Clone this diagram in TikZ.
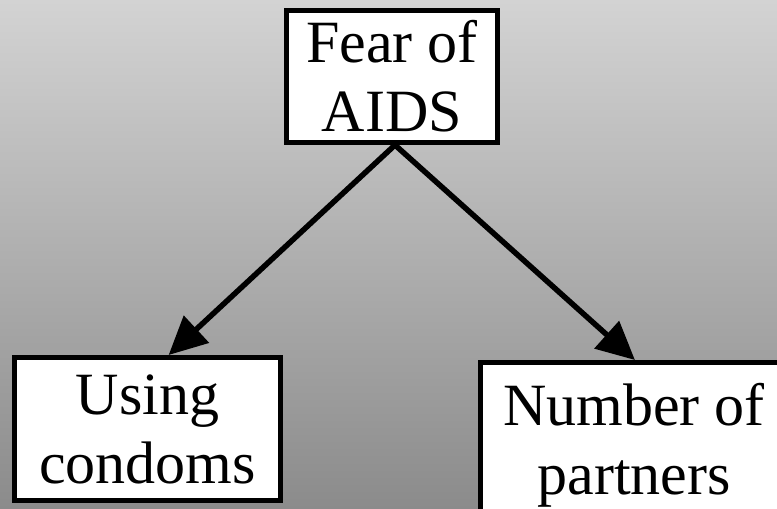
\documentclass[tikz,border=0pt]{standalone}
\usepackage{fontspec}
\setmainfont{Liberation Serif}
\newfontfamily\boxfont{Liberation Serif}
\usetikzlibrary{arrows.meta,calc}
\definecolor{bgtop}{RGB}{211,211,211}
\definecolor{bgbottom}{RGB}{139,139,139}
\tikzset{
  causebox/.style={draw=black, fill=white, line width=5pt, rectangle,
    inner sep=0pt, align=center, font=\boxfont\fontsize{60}{69}\selectfont},
  causearrow/.style={line width=5.5pt, -{Triangle[length=38pt,width=36pt]}}
}
\begin{document}
\begin{tikzpicture}[x=1pt,y=-1pt]
  % background with vertical grey gradient
  \useasboundingbox (0,0) rectangle (777,509);
  \shade[top color=bgtop, bottom color=bgbottom] (0,0) rectangle (777,509);
  \clip (0,0) rectangle (777,509);

  \node[causebox, minimum width=211pt, minimum height=132.5pt] (fear) at (392,76.25) {Fear of\\AIDS};
  \node[causebox, minimum width=266pt, minimum height=143pt] (using) at (147.5,429) {Using\\condoms};
  \node[causebox, minimum width=307pt, minimum height=165pt] (number) at (634,445) {Number of\\partners};

  \draw[causearrow] ($(fear.south)+(3,0)$) -- ($(using.north west)!0.578!(using.north east)$);
  \draw[causearrow] ($(fear.south)+(3,0)$) -- ($(number.north west)!0.503!(number.north east)$);
\end{tikzpicture}
\end{document}
